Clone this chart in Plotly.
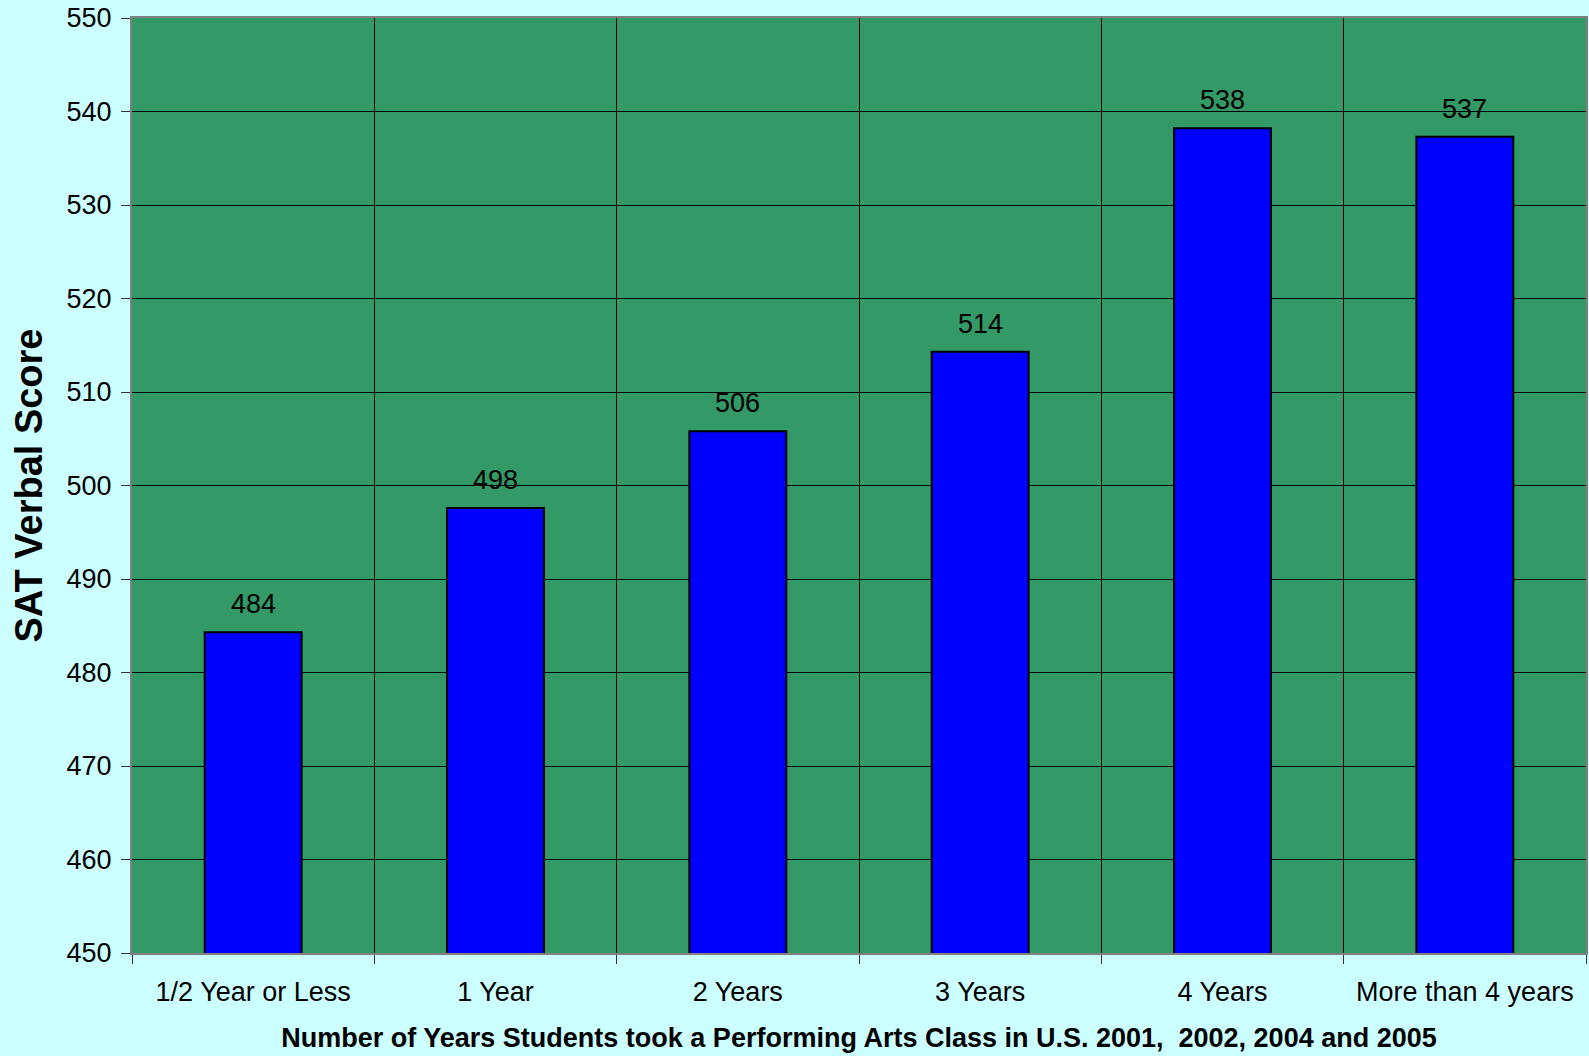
import plotly.graph_objects as go

categories = ["1/2 Year or Less", "1 Year", "2 Years", "3 Years", "4 Years", "More than 4 years"]
scores = [484.3, 497.6, 505.8, 514.3, 538.2, 537.3]
labels = ["484", "498", "506", "514", "538", "537"]
y_ticks = [450, 460, 470, 480, 490, 500, 510, 520, 530, 540, 550]

FONT = "Arial, Liberation Sans, sans-serif"

fig = go.Figure()
fig.add_trace(go.Bar(
    x=categories, y=scores, width=0.4,
    marker=dict(color="#0000FF", line=dict(color="#000000", width=2)),
    hoverinfo="x+y",
))

for c, v, t in zip(categories, scores, labels):
    fig.add_annotation(x=c, y=v, text=t, showarrow=False, yanchor="bottom",
                       yshift=11, font=dict(family=FONT, size=27, color="#000000"))

fig.update_layout(
    width=1589, height=1056,
    paper_bgcolor="#CCFFFF", plot_bgcolor="#339966",
    margin=dict(l=132, r=1, t=18, b=103),
    showlegend=False,
    bargap=0.6,
    font=dict(family=FONT, color="#000000"),
)
fig.update_xaxes(
    type="category", tickson="boundaries",
    showgrid=True, gridcolor="#000000", gridwidth=1,
    ticks="outside", ticklen=9, tickcolor="#333333", tickwidth=1,
    showline=True, linecolor="#808080", linewidth=2, mirror=True,
    tickfont=dict(family=FONT, size=27, color="#000000"),
    ticklabelstandoff=14,
    title=dict(text="Number of Years Students took a Performing Arts Class in U.S. 2001,\u00a0 2002, 2004 and 2005",
               font=dict(family=FONT, size=27, color="#000000", weight="bold"), standoff=22),
)
fig.update_yaxes(
    range=[450, 550], tickvals=y_ticks,
    showgrid=True, gridcolor="#000000", gridwidth=1,
    ticks="outside", ticklen=9, tickcolor="#333333", tickwidth=1,
    showline=True, linecolor="#808080", linewidth=2, mirror=True,
    tickfont=dict(family=FONT, size=27, color="#000000"),
    ticklabelstandoff=4, zeroline=False,
    title=dict(text="SAT Verbal Score",
               font=dict(family=FONT, size=38, color="#000000", weight="bold"), standoff=12),
)

fig.write_html("out.html", config={"displayModeBar": False},
               post_script="document.body.style.margin='0';")
